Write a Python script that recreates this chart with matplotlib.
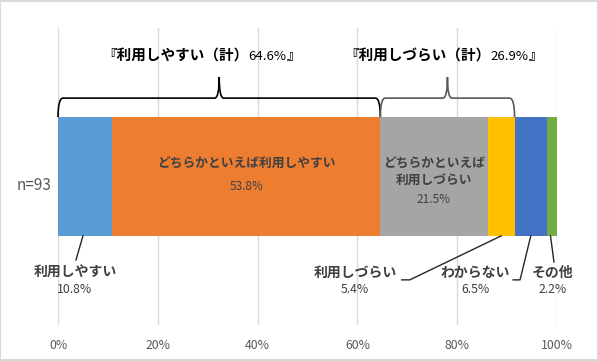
import matplotlib
matplotlib.use("Agg")
import matplotlib.pyplot as plt
from matplotlib.path import Path
from matplotlib.patches import PathPatch, Rectangle
import numpy as np

plt.rcParams['font.family'] = ['Noto Sans CJK JP', 'DejaVu Sans']

# data
categories = ['利用しやすい', 'どちらかといえば利用しやすい', 'どちらかといえば\n利用しづらい',
              '利用しづらい', 'わからない', 'その他']
values = [10.8, 53.8, 21.5, 5.4, 6.5, 2.2]
colors = ['#5B9BD5', '#ED7D31', '#A5A5A5', '#FFC000', '#4472C4', '#70AD47']
group_names = ['利用しやすい（計）', '利用しづらい（計）']
group_values = [64.6, 26.9]
n_label = 'n=93'
xticks = [0, 20, 40, 60, 80, 100]

TXT = '#404040'

fig = plt.figure(figsize=(5.98, 3.61), dpi=100)
ax = fig.add_axes([0.097, 0.0997, 0.8344, 0.8227])

left = np.concatenate([[0], np.cumsum(values)[:-1]])
ax.barh([0] * len(values), values, left=left, height=0.4, color=colors, zorder=3)

ax.set_xlim(0, 100)
ax.set_ylim(-0.5, 0.5)
ax.set_xticks(xticks)
ax.set_xticklabels([f'{t}%' for t in xticks], color='#595959', fontsize=8.8)
ax.tick_params(axis='x', length=0, pad=10)
ax.set_yticks([])
ax.grid(axis='x', color='#d9d9d9', linewidth=1, zorder=0)
for s in ax.spines.values():
    s.set_visible(False)

ax.text(-1.3, -0.03, n_label, ha='right', va='center', fontsize=11, color='#595959')

# labels inside bar
mid = left + np.array(values) / 2
ax.text(mid[1], 0.04, categories[1], ha='center', va='center', fontsize=9.2,
        fontweight='bold', color=TXT, zorder=4)
ax.text(mid[1], -0.035, f'{values[1]}%', ha='center', va='center', fontsize=8.5,
        color=TXT, zorder=4)
ax.text(mid[2], 0.013, categories[2], ha='center', va='center', fontsize=9.2,
        fontweight='bold', color=TXT, linespacing=1.45, zorder=4)
ax.text(mid[2], -0.076, f'{values[2]}%', ha='center', va='center', fontsize=8.5,
        color=TXT, zorder=4)

# outside labels with leader lines
bar_bot = -0.2
outer = [(0, 3.4, [(3.6, -0.281)]),
         (3, 59.5, [(68.9, -0.348), (70.5, -0.348)]),
         (4, 83.6, [(91.2, -0.348), (92.6, -0.348)]),
         (5, 99.2, [(99.4, -0.288)])]
for i, lx, pts in outer:
    ax.text(lx, -0.325, categories[i], ha='center', va='center', fontsize=10,
            fontweight='bold', color=TXT, clip_on=False)
    ax.text(lx, -0.382, f'{values[i]}%', ha='center', va='center', fontsize=8.8,
            color=TXT, clip_on=False)
    xs = [p[0] for p in pts] + [mid[i] - (0.4 if i == 0 else 0) - (0.4 if i == 5 else 0)]
    ys = [p[1] for p in pts] + [bar_bot]
    ax.plot(xs, ys, color='#262626', lw=1, clip_on=False, zorder=5)


def brace(x0, x1, color):
    yb, yl, yt = 0.2, 0.264, 0.335
    r, w = 1.0, 0.9
    xm = (x0 + x1) / 2
    verts = [(x0, yb), (x0, yl), (x0 + r, yl),
             (xm - w, yl), (xm, yl), (xm, yt),
             (xm, yl), (xm + w, yl),
             (x1 - r, yl), (x1, yl), (x1, yb)]
    codes = [Path.MOVETO, Path.CURVE3, Path.CURVE3,
             Path.LINETO, Path.CURVE3, Path.CURVE3,
             Path.CURVE3, Path.CURVE3,
             Path.LINETO, Path.CURVE3, Path.CURVE3]
    ax.add_patch(PathPatch(Path(verts, codes), fill=False, edgecolor=color,
                           lw=1.2, clip_on=False, zorder=5))


g0 = group_values[0]
g1 = group_values[0] + group_values[1]
brace(0, g0, '#000000')
brace(g0, g1, '#595959')

# titles: mixed font sizes on one baseline
renderer = fig.canvas.get_renderer()
inv = ax.transData.inverted()
title_x = [8.8, 57.4]
title_y = 0.392
for gx, name, val in zip(title_x, group_names, group_values):
    x = gx
    pieces = [('『' + name, 10.5, 'bold'), (f'{val}%', 9.5, 'normal'), ('』', 10.5, 'bold')]
    for s, fs, fw in pieces:
        t = ax.text(x, title_y, s, ha='left', va='baseline', fontsize=fs,
                    fontweight=fw, color='#000000', clip_on=False)
        bb = t.get_window_extent(renderer)
        x = inv.transform((bb.x1, bb.y0))[0]

fig.patches.append(Rectangle((0.0008, 0.0014), 0.9984, 0.9972, transform=fig.transFigure,
                             fill=False, edgecolor='#d9d9d9', lw=1.5))

fig.savefig('out.png', dpi=100)
